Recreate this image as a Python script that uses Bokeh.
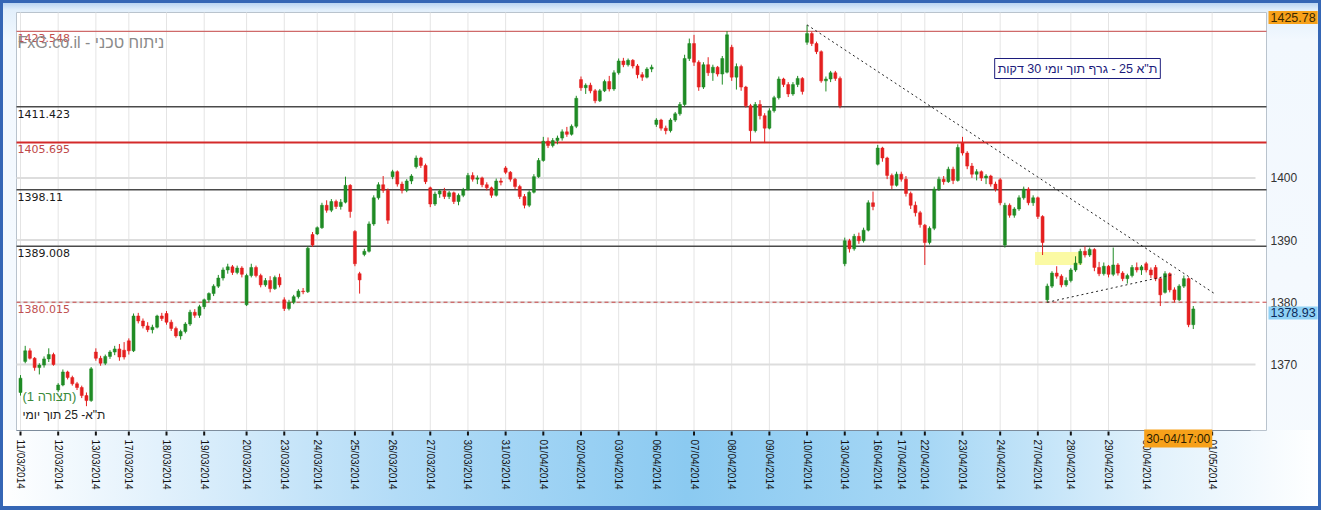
import math
from bokeh.plotting import figure
from bokeh.models import Range1d, Label, ColumnDataSource
from bokeh.embed import file_html
from bokeh.resources import INLINE
from bokeh.core.properties import value

# ---------------- data ----------------
day_labels = ["11/03/2014", "12/03/2014", "13/03/2014", "17/03/2014", "18/03/2014", "19/03/2014",
              "20/03/2014", "23/03/2014", "24/03/2014", "25/03/2014", "26/03/2014", "27/03/2014",
              "30/03/2014", "31/03/2014", "01/04/2014", "02/04/2014", "03/04/2014", "06/04/2014",
              "07/04/2014", "08/04/2014", "09/04/2014", "10/04/2014", "13/04/2014", "16/04/2014",
              "17/04/2014", "22/04/2014", "23/04/2014", "24/04/2014", "27/04/2014", "28/04/2014",
              "29/04/2014", "30/04/2014", "01/05/2014"]
day_candles = [8, 8, 7, 8, 8, 9, 8, 7, 8, 8, 8, 8, 8, 8, 8, 8, 8, 8, 8, 8, 8, 8, 7, 5, 5, 8, 8, 8, 7, 8, 8, 11]
future_slots = 3

opens = [
    1365.5, 1370.5, 1372.2, 1371.0, 1369.5, 1369.9, 1370.9, 1371.6,
    1365.9, 1366.7, 1368.8, 1367.9, 1366.9, 1366.3, 1365.0, 1364.2,
    1372.0, 1371.0, 1370.2, 1371.3, 1372.0, 1372.5, 1372.3,
    1373.8, 1372.2, 1377.8, 1377.0, 1376.2, 1375.6, 1376.0, 1377.8,
    1378.2, 1376.8, 1375.8, 1374.6, 1375.3, 1376.5, 1378.4, 1377.9,
    1379.3, 1380.4, 1381.4, 1382.6, 1383.9, 1385.2, 1385.7, 1384.8, 1385.5,
    1379.6, 1384.3, 1385.6, 1384.3, 1382.8, 1383.5, 1382.2, 1384.0,
    1380.4, 1379.0, 1380.0, 1380.9, 1381.8, 1381.7, 1390.9,
    1391.0, 1392.0, 1395.6, 1394.8, 1396.2, 1395.4, 1396.1, 1398.8,
    1391.4, 1384.6, 1387.7, 1388.2, 1392.6, 1396.8, 1398.9, 1398.0,
    1400.2, 1401.0, 1399.0, 1398.0, 1399.5, 1401.8, 1403.2, 1402.0,
    1398.4, 1395.8, 1397.4, 1397.9, 1397.0, 1397.6, 1396.2, 1397.2,
    1398.1, 1400.4, 1399.8, 1400.0, 1398.9, 1398.4, 1397.2, 1399.5,
    1401.6, 1400.9, 1399.8, 1398.6, 1397.0, 1395.6, 1397.7, 1400.2,
    1402.8, 1405.9, 1405.2, 1406.0, 1406.4, 1407.4, 1407.0, 1408.3,
    1415.8, 1414.5, 1414.9, 1414.0, 1412.4, 1414.0, 1415.5, 1414.3,
    1416.9, 1418.8, 1418.2, 1418.9, 1418.0, 1416.6, 1416.2, 1417.5,
    1408.6, 1409.3, 1408.0, 1407.6, 1409.3, 1410.3, 1411.8, 1419.2,
    1421.6, 1418.6, 1414.6, 1418.2, 1416.9, 1417.8, 1416.7, 1417.0,
    1421.0, 1416.2, 1417.9, 1414.6, 1411.6, 1407.6, 1411.8, 1410.0,
    1408.0, 1410.8, 1412.9, 1415.9, 1415.0, 1413.5, 1415.0, 1416.0,
    1421.8, 1423.2, 1421.6, 1420.3, 1415.6, 1415.9, 1416.9, 1416.0,
    1386.2, 1389.9, 1388.6, 1390.6, 1389.9, 1391.6, 1396.0,
    1402.2, 1404.8, 1403.2, 1400.4, 1398.8,
    1400.6, 1399.8, 1397.5, 1395.6, 1394.4,
    1392.4, 1389.6, 1391.9, 1398.2, 1399.8, 1399.4, 1401.4, 1399.6,
    1405.6, 1404.0, 1401.9, 1400.6, 1401.0, 1400.0, 1400.3, 1399.0,
    1399.7, 1389.2, 1395.6, 1394.0, 1395.0, 1396.8, 1398.2, 1396.0,
    1396.8, 1393.8, 1380.4, 1382.6, 1384.7, 1384.2, 1382.8,
    1383.5, 1385.2, 1386.3, 1388.2, 1387.6, 1388.5, 1385.6, 1384.6,
    1385.8, 1384.5, 1386.0, 1384.7, 1383.8, 1384.3, 1385.6, 1385.2,
    1386.2, 1385.2, 1385.6, 1383.8, 1381.6, 1384.6, 1382.0, 1380.4, 1382.6, 1383.8, 1376.4,
]
highs = [
    1368.3, 1373.0, 1372.6, 1371.2, 1370.2, 1371.3, 1372.6, 1371.9,
    1367.0, 1369.2, 1369.0, 1368.2, 1367.2, 1366.6, 1365.5, 1369.6,
    1372.6, 1371.4, 1371.6, 1372.3, 1373.0, 1373.3, 1373.6,
    1374.2, 1378.2, 1378.3, 1377.4, 1376.8, 1376.4, 1378.0, 1378.3,
    1378.6, 1377.2, 1376.1, 1375.6, 1376.8, 1378.8, 1378.9, 1379.6,
    1380.6, 1381.6, 1382.9, 1384.4, 1385.6, 1386.2, 1386.0, 1385.9, 1385.8,
    1384.6, 1386.2, 1385.9, 1384.6, 1383.9, 1384.2, 1384.3, 1384.6,
    1380.8, 1380.4, 1381.2, 1382.1, 1382.3, 1389.0, 1391.3,
    1392.2, 1396.0, 1396.4, 1396.6, 1396.5, 1396.6, 1400.2, 1399.0,
    1391.6, 1384.9, 1388.6, 1393.0, 1397.2, 1399.3, 1400.3, 1398.3,
    1401.3, 1401.2, 1399.4, 1399.8, 1400.6, 1403.6, 1403.4, 1402.3,
    1398.6, 1397.8, 1398.2, 1398.4, 1397.9, 1397.8, 1397.5, 1398.4,
    1400.8, 1400.9, 1400.4, 1400.2, 1399.3, 1398.6, 1399.9, 1400.0,
    1401.9, 1401.1, 1400.0, 1398.9, 1397.4, 1398.0, 1400.6, 1403.2,
    1406.6, 1406.5, 1406.4, 1406.8, 1407.8, 1408.2, 1408.6, 1413.2,
    1416.3, 1415.2, 1415.3, 1414.3, 1414.3, 1415.8, 1416.4, 1417.3,
    1419.2, 1419.3, 1419.2, 1419.1, 1418.3, 1417.0, 1417.8, 1418.2,
    1409.6, 1409.5, 1408.4, 1409.6, 1410.6, 1412.2, 1419.8, 1422.4,
    1423.0, 1418.9, 1418.6, 1419.4, 1418.2, 1418.0, 1419.6, 1423.6,
    1421.4, 1418.4, 1418.2, 1414.8, 1411.9, 1412.2, 1412.5, 1410.4,
    1411.2, 1413.2, 1416.3, 1416.1, 1415.4, 1415.4, 1416.4, 1416.2,
    1424.6, 1423.5, 1421.9, 1420.5, 1416.3, 1417.2, 1417.2, 1416.3,
    1390.4, 1390.2, 1391.0, 1391.2, 1392.0, 1396.4, 1397.8,
    1405.3, 1405.0, 1403.4, 1400.7, 1401.0,
    1401.0, 1400.3, 1397.8, 1396.2, 1394.7,
    1392.6, 1392.2, 1398.6, 1400.2, 1400.3, 1401.8, 1401.8, 1405.4,
    1406.6, 1404.3, 1402.4, 1401.4, 1401.2, 1400.6, 1400.5, 1399.4,
    1400.0, 1396.0, 1395.9, 1395.3, 1397.2, 1398.6, 1398.5, 1397.2,
    1397.0, 1394.0, 1383.0, 1385.0, 1385.8, 1384.5, 1384.0,
    1385.5, 1387.4, 1388.6, 1389.0, 1388.8, 1388.7, 1386.5, 1386.4,
    1386.0, 1388.8, 1386.3, 1385.0, 1384.6, 1386.0, 1386.4, 1386.0,
    1386.5, 1385.6, 1386.0, 1384.0, 1385.0, 1384.8, 1382.4, 1382.9, 1384.3, 1384.0, 1379.4,
]
lows = [
    1365.0, 1370.2, 1370.8, 1369.0, 1368.4, 1369.5, 1370.4, 1369.8,
    1365.6, 1366.5, 1367.6, 1366.6, 1365.9, 1364.6, 1363.3, 1364.0,
    1370.6, 1369.8, 1369.9, 1370.9, 1371.5, 1370.6, 1370.8,
    1371.6, 1372.0, 1376.6, 1375.8, 1375.2, 1375.0, 1375.8, 1377.0,
    1376.4, 1375.4, 1374.3, 1374.0, 1375.0, 1376.2, 1377.5, 1377.5,
    1378.9, 1380.0, 1381.0, 1382.3, 1383.5, 1384.6, 1384.4, 1384.5, 1384.0,
    1379.4, 1384.0, 1384.0, 1382.4, 1382.5, 1381.6, 1382.0, 1382.4,
    1378.6, 1378.7, 1379.7, 1380.6, 1381.3, 1381.5, 1388.9,
    1390.8, 1391.8, 1394.4, 1394.5, 1395.0, 1394.9, 1395.9, 1393.6,
    1385.8, 1381.4, 1387.4, 1388.0, 1392.3, 1396.5, 1397.6, 1392.6,
    1399.8, 1398.6, 1397.5, 1397.7, 1399.0, 1401.5, 1401.6, 1399.0,
    1395.3, 1395.5, 1396.8, 1396.6, 1396.6, 1395.8, 1395.6, 1396.9,
    1398.0, 1399.4, 1399.0, 1398.5, 1398.0, 1396.8, 1397.0, 1398.8,
    1400.6, 1399.4, 1398.2, 1396.6, 1395.1, 1395.3, 1397.5, 1400.0,
    1402.6, 1404.8, 1404.9, 1405.4, 1406.0, 1406.6, 1406.8, 1408.0,
    1414.0, 1413.5, 1413.6, 1412.0, 1412.2, 1413.8, 1413.9, 1414.0,
    1416.6, 1417.8, 1417.9, 1417.6, 1416.0, 1415.6, 1416.0, 1417.0,
    1408.2, 1407.6, 1407.0, 1407.3, 1409.0, 1410.0, 1411.5, 1418.8,
    1418.0, 1414.0, 1414.3, 1416.4, 1415.6, 1416.3, 1415.0, 1416.8,
    1415.6, 1414.2, 1414.0, 1411.3, 1405.8, 1407.3, 1409.4, 1405.6,
    1407.8, 1410.5, 1412.6, 1414.6, 1413.0, 1413.2, 1414.6, 1413.4,
    1421.4, 1421.2, 1419.9, 1415.3, 1413.9, 1415.4, 1415.6, 1411.2,
    1385.8, 1388.0, 1388.3, 1389.4, 1389.6, 1391.4, 1394.8,
    1402.0, 1402.6, 1399.8, 1398.2, 1398.6,
    1399.4, 1397.0, 1395.0, 1393.8, 1392.0,
    1386.0, 1389.3, 1391.6, 1397.9, 1398.9, 1399.2, 1399.0, 1399.4,
    1403.6, 1401.4, 1400.0, 1399.6, 1399.5, 1399.0, 1398.6, 1397.8,
    1395.6, 1388.8, 1393.6, 1393.6, 1394.7, 1396.5, 1395.6, 1395.5,
    1393.4, 1387.6, 1380.0, 1382.3, 1383.8, 1382.4, 1382.5,
    1383.2, 1384.9, 1386.0, 1387.2, 1387.3, 1385.0, 1384.2, 1384.3,
    1384.0, 1384.2, 1384.3, 1383.4, 1383.0, 1384.0, 1384.8, 1384.4,
    1384.8, 1383.9, 1383.4, 1379.4, 1381.4, 1381.6, 1380.0, 1380.2, 1382.3, 1376.0, 1375.7,
]
closes = [
    1367.8, 1372.2, 1371.0, 1369.5, 1369.9, 1370.9, 1371.6, 1370.0,
    1366.7, 1368.8, 1367.9, 1366.9, 1366.3, 1365.0, 1364.2, 1369.3,
    1371.0, 1370.2, 1371.3, 1372.0, 1372.5, 1371.2, 1371.2,
    1372.2, 1377.8, 1377.0, 1376.2, 1375.6, 1376.0, 1377.8, 1377.4,
    1376.8, 1375.8, 1374.6, 1375.3, 1376.5, 1378.4, 1377.9, 1379.3,
    1380.4, 1381.4, 1382.6, 1383.9, 1385.2, 1385.7, 1384.8, 1385.5, 1384.5,
    1384.3, 1385.6, 1384.3, 1382.8, 1383.5, 1382.2, 1384.0, 1382.8,
    1379.0, 1380.0, 1380.9, 1381.8, 1381.7, 1388.7, 1389.2,
    1392.0, 1395.6, 1394.8, 1396.2, 1395.4, 1396.1, 1398.8, 1394.6,
    1386.2, 1383.6, 1388.2, 1392.6, 1396.8, 1398.9, 1398.0, 1393.2,
    1401.0, 1399.0, 1398.0, 1399.5, 1400.3, 1403.2, 1402.0, 1399.4,
    1395.8, 1397.4, 1397.9, 1397.0, 1397.6, 1396.2, 1397.2, 1398.1,
    1400.4, 1399.8, 1400.0, 1398.9, 1398.4, 1397.2, 1399.5, 1399.3,
    1400.9, 1399.8, 1398.6, 1397.0, 1395.6, 1397.7, 1400.2, 1402.8,
    1405.9, 1405.2, 1406.0, 1406.4, 1407.4, 1407.0, 1408.3, 1412.8,
    1414.5, 1414.9, 1414.0, 1412.4, 1414.0, 1415.5, 1414.3, 1416.9,
    1418.8, 1418.2, 1418.9, 1418.0, 1416.6, 1416.2, 1417.5, 1417.8,
    1409.3, 1408.0, 1407.6, 1409.3, 1410.3, 1411.8, 1419.2, 1421.6,
    1418.6, 1414.6, 1418.2, 1416.9, 1417.8, 1416.7, 1419.2, 1423.0,
    1416.2, 1417.9, 1414.6, 1411.6, 1407.6, 1411.8, 1410.0, 1408.0,
    1410.8, 1412.9, 1415.9, 1415.0, 1413.5, 1415.0, 1416.0, 1413.9,
    1423.2, 1421.6, 1420.3, 1415.6, 1415.9, 1416.9, 1416.0, 1411.6,
    1389.9, 1388.6, 1390.6, 1389.9, 1391.6, 1396.0, 1395.4,
    1404.8, 1403.2, 1400.4, 1398.8, 1400.6,
    1399.8, 1397.5, 1395.6, 1394.4, 1392.5,
    1389.6, 1391.9, 1398.2, 1399.8, 1399.4, 1401.4, 1399.6, 1404.9,
    1404.0, 1401.9, 1400.6, 1401.0, 1400.0, 1400.3, 1399.0, 1398.2,
    1396.0, 1395.6, 1394.0, 1395.0, 1396.8, 1398.2, 1396.0, 1396.8,
    1393.8, 1389.6, 1382.6, 1384.7, 1384.2, 1382.8, 1383.5,
    1385.2, 1386.3, 1388.2, 1387.6, 1388.5, 1385.6, 1384.6, 1385.8,
    1384.5, 1386.0, 1384.7, 1383.8, 1384.3, 1385.6, 1385.2, 1385.7,
    1385.2, 1384.4, 1383.8, 1381.2, 1384.6, 1382.0, 1380.4, 1382.6, 1383.8, 1376.4, 1378.93,
]

level_values = [1423.548, 1411.423, 1405.695, 1398.11, 1389.008, 1380.015]
axis_ticks = [1370, 1380, 1390, 1400]
top_marker = 1425.78
last_close_label = "1378.93"
last_time_label = "30-04/17:00"

trend_upper_x = [167, 253.7]
trend_upper_y = [1424.6, 1381.3]
trend_lower_x = [218, 245]
trend_lower_y = [1380.0, 1384.5]
zone_x = [215.4, 225.4]
zone_y = [1386.0, 1388.1]

watermark = "FxG.co.il - ניתוח טכני"
title_box = 'ת"א 25 - גרף תוך יומי 30 דקות'
legend_1 = "(תצורה 1)"
legend_2 = 'ת"א- 25 תוך יומי'

# ---------------- layout helpers (pixel -> data) ----------------
W, H = 1321, 510
SX, X_ORIGIN_PX = 4.71, 20.0        # px per candle slot, px of slot 0
SY, Y_REF, Y_REF_PX = 6.22, 1370.0, 364.0   # px per index point


def fx(px):
    return (px - X_ORIGIN_PX) / SX


def fy(py):
    return Y_REF + (Y_REF_PX - py) / SY


PL, PR, PT, PB = 16, 1266, 12, 430   # plot area in pixels

# ---------------- derived positions ----------------
day_starts = []
pos = 0
xs = []
for n in day_candles:
    day_starts.append(pos)
    xs.extend(range(pos, pos + n))
    pos += n
day_starts.append(pos + future_slots)

N = min(len(xs), len(opens), len(highs), len(lows), len(closes))
xs = xs[:N]
GREEN = "#1f8b24"
RED = "#e41f1f"
colors = [GREEN if closes[i] >= opens[i] else RED for i in range(N)]
src = ColumnDataSource(dict(
    x=xs,
    top=[max(opens[i], closes[i]) for i in range(N)],
    bottom=[min(opens[i], closes[i]) for i in range(N)],
    high=highs[:N], low=lows[:N], color=colors))

p = figure(width=W, height=H, x_range=Range1d(fx(0), fx(W)), y_range=Range1d(fy(H), fy(0)),
           output_backend="svg", toolbar_location=None, x_axis_location=None,
           y_axis_location=None, min_border=0)
p.background_fill_color = None
p.border_fill_color = None
p.outline_line_color = None
p.xgrid.visible = False
p.ygrid.visible = False
p.styles = {
    "background": ("linear-gradient(to right, #ffffff 0%, #e2f1fc 12%, #b3dcf7 30%, #8bcaf1 52%, "
                   "#a6d7f5 70%, #e3f2fc 88%, #ffffff 100%) left bottom / 100% 80px no-repeat, "
                   "linear-gradient(to bottom, #a8c8ee 0px, #e2effb 10px, #f2f8fe 40px, #f6fafe 100%)"),
    "box-shadow": "inset 0 0 0 3px #3566b5, inset 0 -4px 0 0 #3566b5",
}

# plot area
p.quad(left=[fx(PL)], right=[fx(PR)], bottom=[fy(PB)], top=[fy(PT)],
       fill_color="white", line_color="#b9c3cd", line_width=1)

# grid
p.segment(x0=day_starts, y0=[fy(PB)] * len(day_starts), x1=day_starts, y1=[fy(PT)] * len(day_starts),
          line_color="#e4e4e4", line_width=1)
p.segment(x0=[fx(PL)] * len(axis_ticks), y0=axis_ticks, x1=[fx(1255)] * len(axis_ticks), y1=axis_ticks,
          line_color="#dddddd", line_width=2)

# levels
level_colors = ["#cf6a6a", "#4a4a4a", "#d42a2a", "#4a4a4a", "#4a4a4a", "#c84040"]
level_widths = [1.2, 1.5, 2.2, 1.5, 1.5, 1]
level_dashes = ["solid", "solid", "solid", "solid", "solid", "4 3"]
label_colors = ["#c05050", "#1a1a1a", "#c04848", "#1a1a1a", "#1a1a1a", "#c05050"]
for v, c, w, d in zip(level_values, level_colors, level_widths, level_dashes):
    p.segment(x0=[fx(PL)], y0=[v], x1=[fx(PR)], y1=[v], line_color=c, line_width=w, line_dash=d)

# x axis (line, ticks, labels)
p.segment(x0=[fx(PL)], y0=[fy(PB)], x1=[fx(1250)], y1=[fy(PB)], line_color="#7d8c9c", line_width=1)
p.segment(x0=day_starts, y0=[fy(PB + 1)] * len(day_starts), x1=day_starts, y1=[fy(PB + 5)] * len(day_starts),
          line_color="#111111", line_width=2)
p.text(x=day_starts, y=[fy(PB + 9)] * len(day_starts), text=day_labels, angle=-math.pi / 2,
       text_align="left", text_baseline="middle", text_font=value("Liberation Sans"),
       text_font_size="10px", text_color="#111111")

# y axis labels (right)
p.text(x=[fx(1270)] * len(axis_ticks), y=axis_ticks, text=[str(t) for t in axis_ticks],
       text_align="left", text_baseline="middle", text_font=value("Liberation Sans"),
       text_font_size="12px", text_color="#333333")

# highlight zone
p.quad(left=[zone_x[0]], right=[zone_x[1]], bottom=[zone_y[0]], top=[zone_y[1]],
       fill_color="#fbfa9a", fill_alpha=0.9, line_color=None)

# candles
p.segment(x0="x", y0="high", x1="x", y1="low", line_color="color", line_width=1, source=src)
p.vbar(x="x", width=0.64, top="top", bottom="bottom", fill_color="color",
       line_color="color", line_width=0.5, source=src)

# trend lines
p.line(trend_upper_x, trend_upper_y, line_color="#222222", line_width=1, line_dash="2 3")
p.line(trend_lower_x, trend_lower_y, line_color="#222222", line_width=1, line_dash="2 3")

# level labels
for v, lc in zip(level_values, label_colors):
    p.add_layout(Label(x=fx(PL), y=v, x_offset=1, y_offset=-3, text=f"{v}", text_baseline="top",
                       text_font="DejaVu Sans", text_font_size="11px", text_color=lc))

# texts
p.add_layout(Label(x=fx(PL + 1), y=fy(33), text=watermark, text_baseline="top",
                   text_font="Liberation Sans", text_font_size="16px", text_color="#8a8a8a"))
p.add_layout(Label(x=fx(1077), y=fy(58), text=title_box, text_align="center",
                   text_baseline="top", text_font="Liberation Sans", text_font_size="12.5px",
                   text_color="#1c1c7c", background_fill_color="white",
                   border_line_color="#1c1c7c", border_line_width=1, padding=3))
p.add_layout(Label(x=fx(22), y=fy(396), text=legend_1, text_baseline="middle",
                   text_font="Liberation Sans", text_font_size="13px", text_color="#3a8a3a"))
p.add_layout(Label(x=fx(22), y=fy(414), text=legend_2, text_baseline="middle",
                   text_font="Liberation Sans", text_font_size="12px", text_color="#222222"))

# tags
p.add_layout(Label(x=fx(1268), y=top_marker, text=f"{top_marker}", text_baseline="middle",
                   text_font="Liberation Sans", text_font_size="12.5px", text_color="#3a2800",
                   background_fill_color="#f7a11a", padding=2))
p.add_layout(Label(x=fx(1268), y=closes[-1], y_offset=-4, text=last_close_label, text_baseline="middle",
                   text_font="Liberation Sans", text_font_size="12.5px", text_color="#0c2a5c",
                   background_fill_color="#8fd1f5", padding=2))
p.add_layout(Label(x=day_starts[-2], y=fy(PB - 1), x_offset=-2, text=last_time_label,
                   text_baseline="top", text_font="Liberation Sans", text_font_size="12px",
                   text_color="#2a1c00", background_fill_color="#f7a11a", padding=2))

open("out.html", "w").write(file_html(p, INLINE))
